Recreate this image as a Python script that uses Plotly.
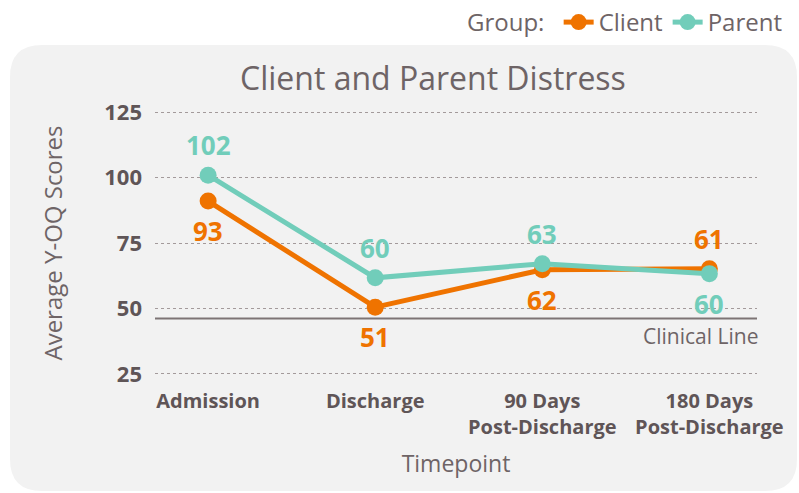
import plotly.graph_objects as go

timepoints = ["Admission", "Discharge", "90 Days<br>Post-Discharge", "180 Days<br>Post-Discharge"]
client_scores = [91, 50.5, 64.8, 65.2]
parent_scores = [100.9, 61.7, 67.1, 63.3]
client_labels = [93, 51, 62, 61]
parent_labels = [102, 60, 63, 60]
client_label_side = [-1, -1, -1, 1]
parent_label_side = [1, 1, 1, -1]
clinical_line = 46.2
y_ticks = [25, 50, 75, 100, 125]

ORANGE = "#EF7300"
TEAL = "#71CDBA"
DARK = "#5f5557"
MID = "#6e6466"
FONT = "Open Sans"

fig = go.Figure()
fig.add_trace(go.Scatter(x=timepoints, y=client_scores, name="Client", mode="lines+markers",
                         line=dict(color=ORANGE, width=5), marker=dict(color=ORANGE, size=17)))
fig.add_trace(go.Scatter(x=timepoints, y=parent_scores, name="Parent", mode="lines+markers",
                         line=dict(color=TEAL, width=5), marker=dict(color=TEAL, size=17)))

# data labels
for xs, ys, labs, sides, col in [(timepoints, client_scores, client_labels, client_label_side, ORANGE),
                                 (timepoints, parent_scores, parent_labels, parent_label_side, TEAL)]:
    for x, y, lab, s in zip(xs, ys, labs, sides):
        fig.add_annotation(x=x, y=y, text=f"<b>{lab}</b>", showarrow=False, yshift=30 * s,
                           yanchor="middle", font=dict(family=FONT, size=26, color=col))

# panel background (rounded rectangle) in paper coords
L, R, T, B = 155, 757, 99, 387
W, H = R - L, B - T
def px(xp): return (xp - L) / W
def py(yp): return (B - yp) / H
x0, x1, y0, y1 = px(10), px(797), py(491), py(45)
rx, ry = 32 / W, 32 / H
path = (f"M {x0+rx},{y1} L {x1-rx},{y1} Q {x1},{y1} {x1},{y1-ry} L {x1},{y0+ry} "
        f"Q {x1},{y0} {x1-rx},{y0} L {x0+rx},{y0} Q {x0},{y0} {x0},{y0+ry} "
        f"L {x0},{y1-ry} Q {x0},{y1} {x0+rx},{y1} Z")
fig.add_shape(type="path", path=path, xref="paper", yref="paper", fillcolor="#f2f2f2",
              line=dict(width=0), layer="below")

# clinical line
fig.add_shape(type="line", xref="paper", x0=0, x1=1, yref="y", y0=clinical_line, y1=clinical_line,
              line=dict(color="#7d7475", width=2), layer="below")
fig.add_annotation(xref="paper", x=1.005, y=clinical_line, yshift=-18, xanchor="right", yanchor="middle",
                   showarrow=False, text="Clinical Line", font=dict(family=FONT, size=21, color=MID))

# title
fig.add_annotation(xref="paper", yref="paper", x=px(433), y=py(78), xanchor="center", yanchor="middle",
                   showarrow=False, text="Client and Parent Distress",
                   font=dict(family=FONT, size=32, color=MID))

fig.update_layout(
    width=799, height=493,
    margin=dict(l=L, r=799 - R, t=T, b=493 - B),
    paper_bgcolor="white", plot_bgcolor="rgba(0,0,0,0)",
    showlegend=True,
    legend=dict(orientation="h", xref="container", yref="container", x=0.985, xanchor="right",
                y=1.0, yanchor="top", title=dict(text="Group: ", font=dict(family=FONT, size=24, color=MID)),
                font=dict(family=FONT, size=24, color=MID), itemwidth=30, bgcolor="rgba(0,0,0,0)"),
    xaxis=dict(type="category", range=[-0.318, 3.285], showgrid=False, zeroline=False, showline=False,
               tickfont=dict(family=FONT, size=20, color=DARK, weight="bold"),
               title=dict(text="Timepoint", font=dict(family=FONT, size=23, color=MID), standoff=16)),
    yaxis=dict(range=[20, 130], tickvals=y_ticks, showgrid=True, gridcolor="#a39a9b", griddash="dot",
               gridwidth=1, zeroline=False, showline=False, ticklabelstandoff=12,
               tickfont=dict(family=FONT, size=22, color=DARK, weight="bold"),
               title=dict(text="Average Y-OQ Scores", font=dict(family=FONT, size=24, color=MID), standoff=34)),
)

fig.write_html("out.html", config={"displayModeBar": False},
               post_script="document.body.style.margin='0px';")
